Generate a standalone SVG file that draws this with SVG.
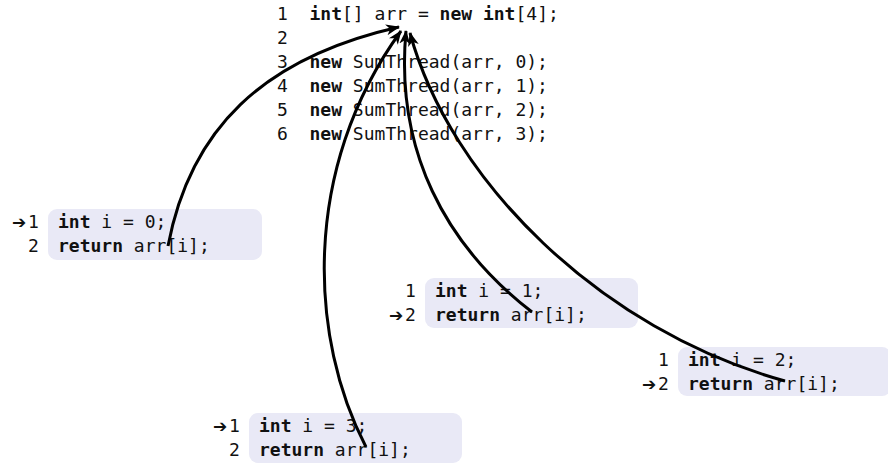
<svg xmlns="http://www.w3.org/2000/svg" width="888" height="467" viewBox="0 0 888 467">
<style>
text{font-family:"DejaVu Sans Mono","Liberation Mono",monospace;font-size:18px;fill:#111;white-space:pre}
.k{font-weight:bold}
.ptr{font-family:"DejaVu Sans",sans-serif;font-size:17px}
.box{fill:#e9e9f6}
.conn path{fill:none;stroke:#000;stroke-width:3}
</style>
<defs>
<marker id="ah" markerUnits="userSpaceOnUse" markerWidth="15" markerHeight="12" refX="13" refY="6" orient="auto" viewBox="0 0 15 12">
<path d="M0,0.5 L14,6 L0,11.5 L4,6 z" fill="#000"/>
</marker>
</defs>
<g id="main">
<text x="277" y="20">1  <tspan class="k">int</tspan>[] arr = <tspan class="k">new</tspan> <tspan class="k">int</tspan>[4];</text>
<text x="277" y="44">2</text>
<text x="277" y="68">3  <tspan class="k">new</tspan> SumThread(arr, 0);</text>
<text x="277" y="92">4  <tspan class="k">new</tspan> SumThread(arr, 1);</text>
<text x="277" y="116">5  <tspan class="k">new</tspan> SumThread(arr, 2);</text>
<text x="277" y="140">6  <tspan class="k">new</tspan> SumThread(arr, 3);</text>
</g>
<g id="thread0">
<rect class="box" x="48" y="209" width="214" height="51" rx="9"/>
<text class="ptr" x="12" y="228">➔</text>
<text x="28" y="228">1</text>
<text x="58" y="228"><tspan class="k">int</tspan> i = 0;</text>
<text x="28" y="252">2</text>
<text x="58" y="252"><tspan class="k">return</tspan> arr[i];</text>
</g>
<g id="thread1">
<rect class="box" x="425" y="278" width="213" height="50" rx="9"/>
<text x="405" y="297">1</text>
<text x="435" y="297"><tspan class="k">int</tspan> i = 1;</text>
<text class="ptr" x="389" y="321">➔</text>
<text x="405" y="321">2</text>
<text x="435" y="321"><tspan class="k">return</tspan> arr[i];</text>
</g>
<g id="thread2">
<rect class="box" x="678" y="347" width="213" height="49" rx="9"/>
<text x="658" y="366">1</text>
<text x="688" y="366"><tspan class="k">int</tspan> i = 2;</text>
<text class="ptr" x="642" y="390">➔</text>
<text x="658" y="390">2</text>
<text x="688" y="390"><tspan class="k">return</tspan> arr[i];</text>
</g>
<g id="thread3">
<rect class="box" x="249" y="413" width="213" height="50" rx="9"/>
<text class="ptr" x="213" y="432">➔</text>
<text x="229" y="432">1</text>
<text x="259" y="432"><tspan class="k">int</tspan> i = 3;</text>
<text x="229" y="456">2</text>
<text x="259" y="456"><tspan class="k">return</tspan> arr[i];</text>
</g>
<g id="connectors" class="conn">
<path d="M168,246 C190,130 262,58 399,27" marker-end="url(#ah)"/>
<path d="M366,447 C310,340 300,170 401,31" marker-end="url(#ah)"/>
<path d="M532,312 C445,245 395,150 406,31" marker-end="url(#ah)"/>
<path d="M785,381 C600,330 450,180 410,33" marker-end="url(#ah)"/>
</g>
</svg>
